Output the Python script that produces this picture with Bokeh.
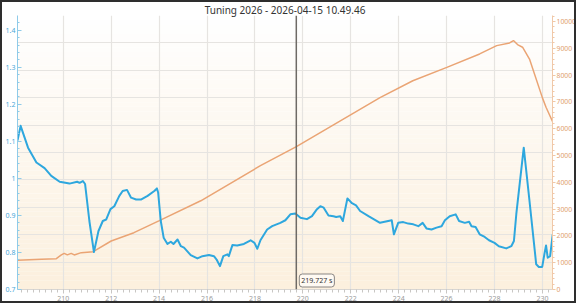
import numpy as np
from bokeh.plotting import figure
from bokeh.models import (Range1d, LinearAxis, FixedTicker, CustomJSTickFormatter,
                          Span, Label)
from bokeh.embed import file_html
from bokeh.resources import INLINE

# ---------------- data ----------------
title_text = "Tuning 2026 - 2026-04-15 10.49.46"
cursor_time = 219.727
cursor_label = "219.727 s"

blue_t = [208.09, 208.22, 208.53, 208.88, 209.22, 209.50, 209.85, 210.26, 210.58, 210.68,
          210.82, 210.91, 211.09, 211.28, 211.47, 211.65, 211.79, 211.97, 212.13, 212.34,
          212.48, 212.66, 212.83, 213.04, 213.24, 213.52, 213.80, 213.91, 213.96, 214.07,
          214.19, 214.35, 214.49, 214.60, 214.77, 214.91, 215.04, 215.32, 215.60, 215.81,
          216.08, 216.29, 216.40, 216.54, 216.68, 216.85, 216.91, 217.06, 217.26, 217.54,
          217.82, 217.98, 218.10, 218.23, 218.51, 218.72, 219.06, 219.27, 219.48, 219.69,
          219.90, 220.17, 220.38, 220.59, 220.73, 220.87, 221.07, 221.28, 221.39, 221.56,
          221.67, 221.86, 222.05, 222.22, 222.39, 222.74, 223.22, 223.71, 223.80, 223.98,
          224.19, 224.40, 224.61, 224.82, 225.00, 225.16, 225.37, 225.58, 225.79, 225.93,
          226.13, 226.38, 226.52, 226.76, 226.94, 227.04, 227.21, 227.38, 227.59, 227.77,
          228.00, 228.18, 228.49, 228.70, 228.81, 228.91, 229.22, 229.46, 229.74, 229.85,
          229.99, 230.08, 230.15, 230.22, 230.32, 230.43]
blue_v = [1.102, 1.142, 1.083, 1.043, 1.028, 1.007, 0.991, 0.986, 0.991, 0.988,
          0.993, 0.985, 0.885, 0.801, 0.858, 0.885, 0.889, 0.917, 0.925, 0.953,
          0.966, 0.969, 0.948, 0.943, 0.943, 0.953, 0.966, 0.973, 0.962, 0.885,
          0.840, 0.823, 0.829, 0.823, 0.835, 0.817, 0.813, 0.793, 0.784, 0.790,
          0.793, 0.790, 0.781, 0.763, 0.790, 0.795, 0.790, 0.820, 0.819, 0.823,
          0.833, 0.826, 0.810, 0.833, 0.862, 0.871, 0.880, 0.887, 0.903, 0.905,
          0.894, 0.890, 0.898, 0.917, 0.925, 0.921, 0.900, 0.898, 0.896, 0.898,
          0.885, 0.946, 0.933, 0.927, 0.912, 0.898, 0.880, 0.887, 0.849, 0.880,
          0.882, 0.878, 0.876, 0.871, 0.880, 0.865, 0.862, 0.867, 0.871, 0.887,
          0.898, 0.903, 0.885, 0.880, 0.883, 0.871, 0.869, 0.849, 0.842, 0.833,
          0.826, 0.817, 0.811, 0.817, 0.831, 0.904, 1.083, 0.939, 0.768, 0.761,
          0.761, 0.795, 0.819, 0.786, 0.790, 0.849]

orange_t = [208.09, 209.09, 209.71, 209.92, 210.04, 210.17, 210.33, 210.46, 210.75, 211.25,
            212.00, 212.95, 213.99, 215.74, 218.23, 219.73, 223.22, 224.59, 226.01, 227.38,
            228.09, 228.63, 228.79, 228.96, 229.17, 229.46, 230.00, 230.15, 230.42]
orange_v = [1090, 1130, 1150, 1290, 1350, 1290, 1350, 1290, 1375, 1410,
            1810, 2120, 2560, 3310, 4620, 5330, 7160, 7790, 8290, 8790,
            9100, 9200, 9290, 9140, 9040, 8600, 7150, 6800, 6270]

x_ticks = [210, 212, 214, 216, 218, 220, 222, 224, 226, 228, 230]
x_tick_labels = ["210", "212", "214", "216", "218", "220", "222", "224", "226", "228", "230"]
left_ticks = [0.7, 0.8, 0.9, 1.0, 1.1, 1.2, 1.3, 1.4]
left_tick_labels = ["0.7", "0.8", "0.9", "1", "1.1", "1.2", "1.3", "1.4"]
right_ticks = [0, 1000, 2000, 3000, 4000, 5000, 6000, 7000, 8000, 9000, 10000]
right_tick_labels = ["0", "1000", "2000", "3000", "4000", "5000", "6000", "7000", "8000", "9000", "10000"]

# ---------------- styling ----------------
BLUE = "#2ea7de"
ORANGE = "#eaa474"
FONT = "Noto Sans"

x_lo, x_hi = 208.09, 230.42
yl_lo, yl_hi = 0.7, 1.44
yr_lo, yr_hi = 0.0, 10224.0

p = figure(width=576, height=303, output_backend="svg", toolbar_location=None,
           x_range=Range1d(x_lo, x_hi), y_range=Range1d(yl_lo, yl_hi),
           min_border_left=14, min_border_right=25, min_border_top=0, min_border_bottom=16,
           x_axis_location=None, y_axis_location=None)
p.styles = {"border": "2px solid #2e2e2e"}
p.extra_y_ranges = {"right": Range1d(yr_lo, yr_hi)}
p.outline_line_color = None
p.background_fill_color = "white"
p.border_fill_color = "white"

p.title.text = title_text
p.title.align = "center"
p.title.text_font = FONT
p.title.text_font_size = "10px"
p.title.text_font_style = "normal"
p.title.text_color = "#333333"
try:
    p.title.standoff = -3
except Exception:
    p.title.standoff = 0

# gradient background (decoration bands)
nb = 60
edges = np.linspace(yl_lo, yl_hi, nb + 1)
fr = np.linspace(1, 0, nb)  # 1 at bottom, 0 at top
top_c = np.array([255, 255, 255])
bot_c = np.array([252, 240, 222])
cols = ["#%02x%02x%02x" % tuple((top_c + (bot_c - top_c) * f).astype(int)) for f in fr]
p.quad(left=x_lo, right=x_hi, bottom=edges[:-1], top=edges[1:], fill_color=cols,
       line_color=None, level="image")

# grid
p.xgrid.ticker = FixedTicker(ticks=x_ticks)
p.ygrid.ticker = FixedTicker(ticks=list(np.linspace(yl_lo, yl_hi, 11)))
for g in (p.xgrid[0], p.ygrid[0]):
    g.grid_line_color = "#e6e4e1"
    g.grid_line_width = 1.2

fmt_code = """
let best = 0, d = 1e99;
for (let i = 0; i < tvals.length; i++) { const e = Math.abs(tvals[i] - tick); if (e < d) { d = e; best = i; } }
return d < 1e-6 * (1 + Math.abs(tick)) ? tlabels[best] : '';
"""

def make_fmt(vals, labels):
    return CustomJSTickFormatter(args=dict(tvals=vals, tlabels=labels), code=fmt_code)

# x axis
xa = LinearAxis(ticker=FixedTicker(ticks=x_ticks, minor_ticks=list(np.arange(208.25, 230.5, 0.25))),
                formatter=make_fmt(x_ticks, x_tick_labels))
xa.axis_line_color = "#d8d6d3"
xa.major_tick_line_color = "#c8c6c3"
xa.minor_tick_line_color = "#c8c6c3"
xa.major_tick_out = 4
xa.major_tick_in = 0
xa.minor_tick_out = 3
xa.minor_tick_in = 0
xa.major_label_text_font = FONT
xa.major_label_text_font_size = "7px"
xa.major_label_text_color = "#9a9a9a"
xa.major_label_standoff = 2
p.add_layout(xa, "below")

# left axis
la = LinearAxis(ticker=FixedTicker(ticks=left_ticks, minor_ticks=list(np.arange(0.72, 1.44, 0.02))),
                formatter=make_fmt(left_ticks, left_tick_labels))
la.axis_line_color = "#8fcbe9"
la.major_tick_line_color = "#8fcbe9"
la.minor_tick_line_color = "#8fcbe9"
la.major_tick_out = 0
la.major_tick_in = 4
la.minor_tick_out = 0
la.minor_tick_in = 2
la.major_label_text_font = FONT
la.major_label_text_font_size = "7px"
la.major_label_text_color = "#4aa8d8"
la.major_label_standoff = 2
p.add_layout(la, "left")

# right axis
ra = LinearAxis(y_range_name="right",
                ticker=FixedTicker(ticks=right_ticks, minor_ticks=list(np.arange(200, 10224, 200))),
                formatter=make_fmt(right_ticks, right_tick_labels))
ra.axis_line_color = "#f0c8a8"
ra.major_tick_line_color = "#f0c8a8"
ra.minor_tick_line_color = "#f0c8a8"
ra.major_tick_out = 3
ra.major_tick_in = 0
ra.minor_tick_out = 2
ra.minor_tick_in = 0
ra.major_label_text_font = FONT
ra.major_label_text_font_size = "6.8px"
ra.major_label_text_color = "#e0a070"
ra.major_label_standoff = 1
p.add_layout(ra, "right")

# series
p.line(orange_t, orange_v, y_range_name="right", line_color=ORANGE, line_width=1.5)
p.line(blue_t, blue_v, line_color=BLUE, line_width=2, line_join="round")

# cursor
p.add_layout(Span(location=cursor_time, dimension="height", line_color="#6e6a66", line_width=1.5))
p.add_layout(Label(x=cursor_time, y=yl_lo, x_offset=3, y_offset=9, text=cursor_label,
                   text_font=FONT, text_font_size="7px", text_color="#333333",
                   text_baseline="middle", background_fill_color="#fffaf3",
                   border_line_color="#8a8683", border_line_width=1, border_radius=3,
                   padding=2))

open("out.html", "w").write(file_html(p, INLINE))
